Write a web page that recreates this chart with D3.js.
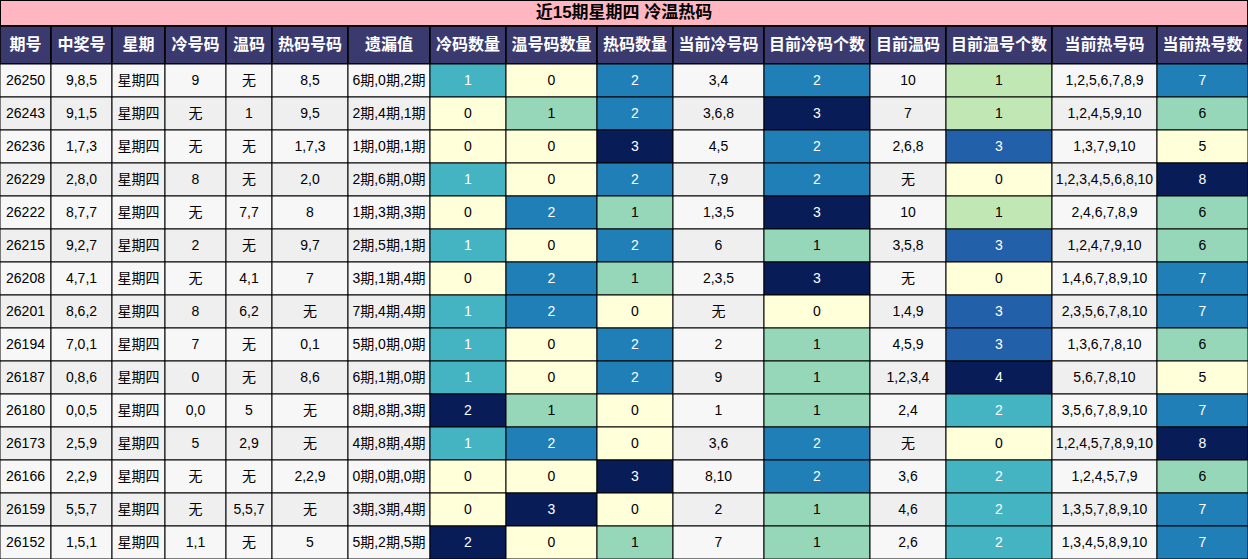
<!DOCTYPE html><html><head><meta charset="utf-8"><script src="https://cdn.jsdelivr.net/npm/d3@7"></script>
<style>body{margin:0;background:#fff}svg{display:block}</style></head><body><svg id="c" width="1248" height="559"></svg>
<script>
const title="近15期星期四 冷温热码";
const headers=["期号","中奖号","星期","冷号码","温码","热码号码","遗漏值","冷码数量","温号码数量","热码数量","当前冷号码","目前冷码个数","目前温码","目前温号个数","当前热号码","当前热号数"];
const issues=["26250","26243","26236","26229","26222","26215","26208","26201","26194","26187","26180","26173","26166","26159","26152"];
const winning=["9,8,5","9,1,5","1,7,3","2,8,0","8,7,7","9,2,7","4,7,1","8,6,2","7,0,1","0,8,6","0,0,5","2,5,9","2,2,9","5,5,7","1,5,1"];
const weekday=Array(15).fill("星期四");
const coldNums=["9","无","无","8","无","2","无","8","7","0","0,0","5","无","无","1,1"];
const warmNums=["无","1","无","无","7,7","无","4,1","6,2","无","无","5","2,9","无","5,5,7","无"];
const hotNums=["8,5","9,5","1,7,3","2,0","8","9,7","7","无","0,1","8,6","无","无","2,2,9","无","5"];
const missing=["6期,0期,2期","2期,4期,1期","1期,0期,1期","2期,6期,0期","1期,3期,3期","2期,5期,1期","3期,1期,4期","7期,4期,4期","5期,0期,0期","6期,1期,0期","8期,8期,3期","4期,8期,4期","0期,0期,0期","3期,3期,4期","5期,2期,5期"];
const coldCount=[1,0,0,1,0,1,0,1,1,1,2,1,0,0,2];
const warmCount=[0,1,0,0,2,0,2,2,0,0,1,2,0,3,0];
const hotCount=[2,2,3,2,1,2,1,0,2,2,0,0,3,0,1];
const curCold=["3,4","3,6,8","4,5","7,9","1,3,5","6","2,3,5","无","2","9","1","3,6","8,10","2","7"];
const curColdCount=[2,3,2,2,3,1,3,0,1,1,1,2,2,1,1];
const curWarm=["10","7","2,6,8","无","10","3,5,8","无","1,4,9","4,5,9","1,2,3,4","2,4","无","3,6","4,6","2,6"];
const curWarmCount=[1,1,3,0,1,3,0,3,3,4,2,0,2,2,2];
const curHot=["1,2,5,6,7,8,9","1,2,4,5,9,10","1,3,7,9,10","1,2,3,4,5,6,8,10","2,4,6,7,8,9","1,2,4,7,9,10","1,4,6,7,8,9,10","2,3,5,6,7,8,10","1,3,6,7,8,10","5,6,7,8,10","3,5,6,7,8,9,10","1,2,4,5,7,8,9,10","1,2,4,5,7,9","1,3,5,7,8,9,10","1,3,4,5,8,9,10"];
const curHotCount=[7,6,5,8,6,6,7,7,6,5,7,8,6,7,7];

const cols=[issues,winning,weekday,coldNums,warmNums,hotNums,missing,coldCount,warmCount,hotCount,curCold,curColdCount,curWarm,curWarmCount,curHot,curHotCount];
const numeric=new Set([7,8,9,11,13,15]);
const edges=[0,51,112,165,226,272,348,430,506,597,673,764,870,946,1052,1157,1248];
const W=1248,titleH=26,headH=38;
const svg=d3.select("#c");
const font="'Liberation Sans','Noto Sans CJK SC',sans-serif";
const y=d3.scaleBand().domain(d3.range(15)).range([titleH+headH,559]);
svg.append("rect").attr("x",0).attr("y",0).attr("width",W).attr("height",titleH).attr("fill","#ffb6c1").attr("stroke","#000").attr("stroke-width",2);
svg.append("text").attr("x",W/2).attr("y",titleH/2+1).attr("text-anchor","middle").attr("dominant-baseline","middle").attr("font-family",font).attr("font-weight","bold").attr("font-size",17).text(title);
headers.forEach((h,i)=>{
  svg.append("rect").attr("x",edges[i]).attr("y",titleH).attr("width",edges[i+1]-edges[i]).attr("height",headH).attr("fill","#3b3a6e").attr("stroke","#000").attr("stroke-width",1.5);
  svg.append("text").attr("x",(edges[i]+edges[i+1])/2).attr("y",titleH+headH/2+1).attr("text-anchor","middle").attr("dominant-baseline","middle").attr("fill","#fff").attr("font-family",font).attr("font-weight","bold").attr("font-size",16).text(h);
});
cols.forEach((col,ci)=>{
  let sc=null;
  if(numeric.has(ci)){const [a,b]=d3.extent(col);sc=v=>(v-a)/(b-a);}
  col.forEach((v,ri)=>{
    const x0=edges[ci],w=edges[ci+1]-x0;
    let fill=ri%2?"#efefef":"#f7f7f7",tc="#000";
    if(sc){const t=sc(v);fill=d3.interpolateYlGnBu(t);tc=t>=0.5?"#fff":"#000";}
    svg.append("rect").attr("x",x0).attr("y",y(ri)).attr("width",w).attr("height",y.bandwidth()).attr("fill",fill).attr("stroke","#000").attr("stroke-width",1);
    svg.append("text").attr("x",x0+w/2).attr("y",y(ri)+y.bandwidth()/2+1).attr("text-anchor","middle").attr("dominant-baseline","middle").attr("fill",tc).attr("font-family",font).attr("font-size",14).text(v);
  });
});
</script></body></html>
